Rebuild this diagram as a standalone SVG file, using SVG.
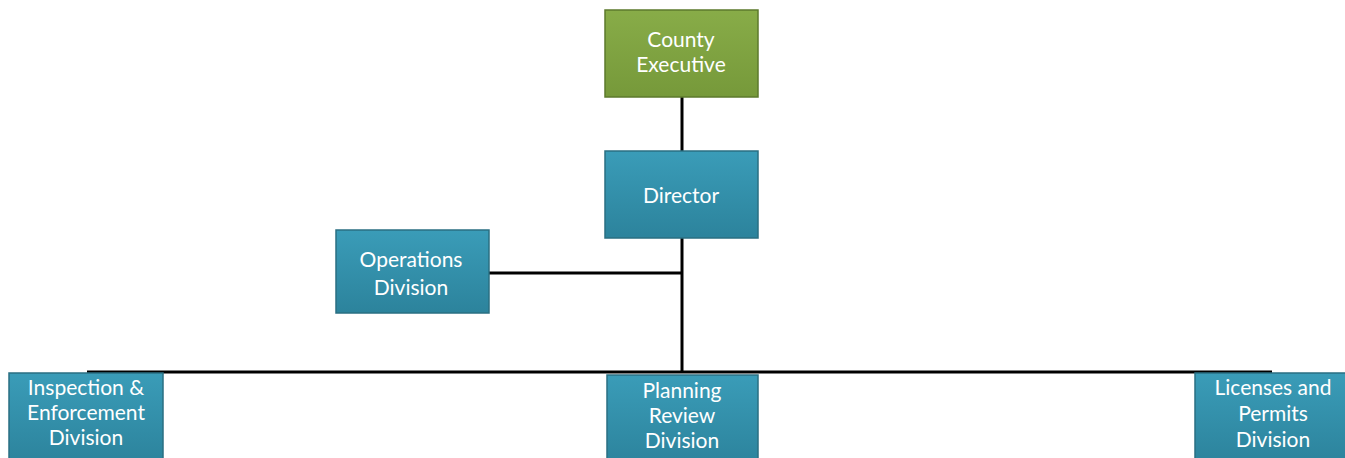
<svg xmlns="http://www.w3.org/2000/svg" width="1345" height="458" viewBox="0 0 1345 458">
<style>
.lbl{font-family:Lato,"Liberation Sans",sans-serif;font-size:21px;fill:#ffffff;text-anchor:middle}
.teal{fill:url(#gTeal);stroke:#2a6f82;stroke-width:1.5}
.green{fill:url(#gGreen);stroke:#5c7a2c;stroke-width:1.5}
.conn{stroke:#000;stroke-width:3;fill:none}
</style>
<defs>
<linearGradient id="gTeal" x1="0" y1="0" x2="0" y2="1">
<stop offset="0" stop-color="#3a9cb8"/>
<stop offset="1" stop-color="#2c839c"/>
</linearGradient>
<linearGradient id="gGreen" x1="0" y1="0" x2="0" y2="1">
<stop offset="0" stop-color="#88ac48"/>
<stop offset="1" stop-color="#76993a"/>
</linearGradient>
</defs>
<rect width="1345" height="458" fill="#ffffff"/>
<g id="connectors">
<line class="conn" x1="682" y1="97" x2="682" y2="151"/>
<line class="conn" x1="682" y1="238" x2="682" y2="373"/>
<line class="conn" x1="486" y1="273" x2="682" y2="273"/>
<line class="conn" x1="87" y1="372" x2="1272" y2="372"/>
</g>
<g id="county-executive">
<rect class="green" x="605" y="10" width="153" height="87"/>
<text class="lbl" x="681" y="47">County</text>
<text class="lbl" x="681" y="72">Executive</text>
</g>
<g id="director">
<rect class="teal" x="605" y="151" width="153" height="87"/>
<text class="lbl" x="681" y="203">Director</text>
</g>
<g id="operations">
<rect class="teal" x="336" y="230" width="153" height="83"/>
<text class="lbl" x="411" y="267">Operations</text>
<text class="lbl" x="411" y="295">Division</text>
</g>
<g id="inspection">
<rect class="teal" x="9" y="373" width="154" height="90"/>
<text class="lbl" x="86" y="395">Inspection &amp;</text>
<text class="lbl" x="86" y="420">Enforcement</text>
<text class="lbl" x="86" y="445">Division</text>
</g>
<g id="planning">
<rect class="teal" x="607" y="375" width="151" height="90"/>
<text class="lbl" x="682" y="398">Planning</text>
<text class="lbl" x="682" y="423">Review</text>
<text class="lbl" x="682" y="448">Division</text>
</g>
<g id="licenses">
<rect class="teal" x="1195" y="373" width="155" height="90"/>
<text class="lbl" x="1273" y="395">Licenses and</text>
<text class="lbl" x="1273" y="421">Permits</text>
<text class="lbl" x="1273" y="447">Division</text>
</g>
</svg>
